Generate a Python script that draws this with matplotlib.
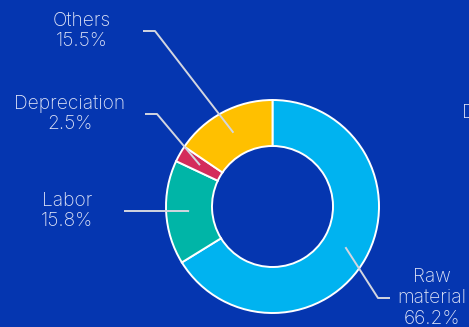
import numpy as np
import matplotlib.pyplot as plt

# cost breakdown (clockwise from 12 o'clock)
labels = ['Raw\nmaterial', 'Labor', 'Depreciation', 'Others']
shares = [66.2, 15.8, 2.5, 15.5]
colors = ['#00b3f0', '#00b5a7', '#d42b5b', '#ffc000']

bg = '#0536b0'
txt_col = '#dfe4f7'
line_col = '#d3d6e0'

W, H = 469, 327
fig = plt.figure(figsize=(W / 100, H / 100), dpi=100, facecolor=bg)
ax = fig.add_axes([0, 0, 1, 1])
ax.set_facecolor(bg)

# pixel geometry of the donut (y measured from the top of the image)
cx, cy = 272.5, H - 206.5
r_out, r_in = 106.5, 60.5
width = r_out - r_in

wedges, _ = ax.pie(shares, colors=colors, startangle=90, counterclock=False,
                   center=(cx, cy), radius=r_out,
                   wedgeprops=dict(width=width, edgecolor='white', linewidth=1.4))

ax.set_xlim(0, W)
ax.set_ylim(0, H)
ax.set_aspect('equal')
ax.axis('off')

# label placement: elbow, end of leader, text anchor (pixels from top-left)
layout = {
    'Others':       dict(elbow=(155, 31), end=(143, 31), text=(82, 31), ha='center'),
    'Depreciation': dict(elbow=(157, 114), end=(145, 114), text=(70, 114), ha='center'),
    'Labor':        dict(elbow=(188, 211), end=(124, 211), text=(67, 211), ha='center'),
    'Raw\nmaterial': dict(elbow=(378, 298), end=(390, 298), text=(432, 298), ha='center'),
}

r_mid = (r_out + r_in) / 2
for w, lab, val in zip(wedges, labels, shares):
    ang = np.deg2rad((w.theta1 + w.theta2) / 2)
    x0 = cx + r_mid * np.cos(ang)
    y0 = cy + r_mid * np.sin(ang)
    L = layout[lab]
    ex, ey = L['elbow'][0], H - L['elbow'][1]
    tx, ty = L['end'][0], H - L['end'][1]
    ax.plot([x0, ex, tx], [y0, ey, ty], color=line_col, lw=1.4,
            solid_capstyle='butt', zorder=5)
    ax.text(L['text'][0], H - L['text'][1], f'{lab}\n{val}%', ha=L['ha'],
            va='center', color=txt_col, fontsize=13.8, family='Inter',
            fontweight='light', linespacing=1.2)

# edge of the neighbouring chart's text, cut by the frame
ax.text(462, H - 113, 'D', ha='left', va='center', color=txt_col,
        fontsize=13.8, family='Inter', fontweight='light')

fig.savefig('out.png', dpi=100, facecolor=bg)
